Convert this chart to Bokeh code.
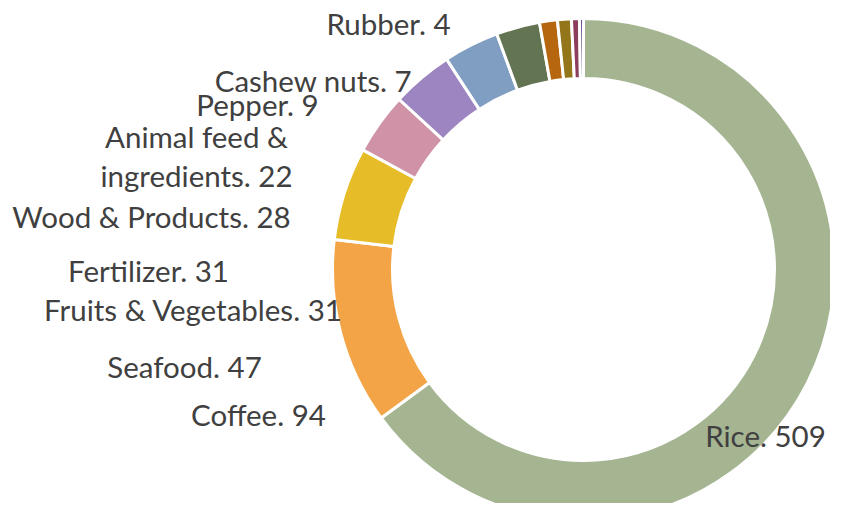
import numpy as np
from bokeh.plotting import figure
from bokeh.models import Range1d, ColumnDataSource
from bokeh.embed import file_html
from bokeh.resources import INLINE
from bokeh.core.properties import value

# ---- data ----
categories = ["Rice", "Coffee", "Seafood", "Fruits & Vegetables", "Fertilizer",
              "Wood & Products", "Animal feed & ingredients", "Pepper",
              "Cashew nuts", "Rubber", "Other"]
values = [509, 94, 47, 31, 31, 28, 22, 9, 7, 4, 2]
show_label = [True, True, True, True, True, True, True, True, True, True, False]

# ---- styles ----
colors = ["#A5B592", "#F3A447", "#E7BC29", "#D092A7", "#9C85C0", "#809EC2",
          "#637452", "#B6660F", "#93761A", "#8C3E5C", "#5D4A8A"]

# label centre positions in picture pixels (x, y from top)
label_pos = {
    "Rice": [(765, 435)],
    "Coffee": [(258, 414)],
    "Seafood": [(184, 366)],
    "Fruits & Vegetables": [(193, 309)],
    "Fertilizer": [(148, 270)],
    "Wood & Products": [(151, 216)],
    "Animal feed & ingredients": [(196, 136), (196, 175)],
    "Pepper": [(257, 104)],
    "Cashew nuts": [(313, 80)],
    "Rubber": [(388, 23)],
}

W, H = 830, 503
PAGE_H = 519  # data_y = PAGE_H - picture_y
cx, cy = 583, PAGE_H - 269
r_out, r_in = 251, 191

total = float(sum(values))
cum = np.concatenate([[0.0], np.cumsum(values)])
start = np.pi / 2 - cum[:-1] / total * 2 * np.pi
end = np.pi / 2 - cum[1:] / total * 2 * np.pi

src = ColumnDataSource(dict(start=start, end=end, color=colors, cat=categories))

p = figure(width=W, height=H, output_backend="svg", toolbar_location=None,
           x_range=Range1d(0, W), y_range=Range1d(PAGE_H - H, PAGE_H),
           min_border=0)
p.axis.visible = False
p.grid.visible = False
p.outline_line_color = None
p.background_fill_color = "white"
p.border_fill_color = "white"

p.annular_wedge(x=cx, y=cy, inner_radius=r_in, outer_radius=r_out,
                start_angle="start", end_angle="end", direction="clock",
                fill_color="color", line_color="white", line_width=3, source=src)

lx, ly, lt = [], [], []
for c, v, s in zip(categories, values, show_label):
    if not s:
        continue
    pos = label_pos[c]
    if len(pos) == 2:
        head, tail = c.split(" & ")
        parts = [head + " &", f"{tail}. {v}"]
    else:
        parts = [f"{c}. {v}"]
    for (px, py), t in zip(pos, parts):
        lx.append(px)
        ly.append(PAGE_H - py)
        lt.append(t)

p.text(x=lx, y=ly, text=lt, text_font=value("Lato"), text_font_size="29.5px",
       text_color="#404040", text_align="center", text_baseline="middle")

open("out.html", "w").write(file_html(p, INLINE))
